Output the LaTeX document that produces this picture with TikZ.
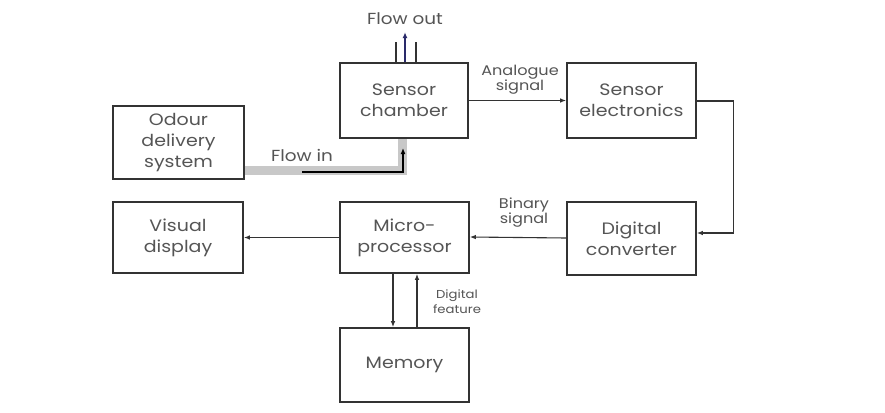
\documentclass[tikz,border=0pt]{standalone}
\usepackage{fontspec}
\setmainfont{Poppins}[FakeStretch=1.15]
\usetikzlibrary{arrows.meta}
\definecolor{boxc}{HTML}{333333}
\definecolor{txt}{HTML}{555555}
\definecolor{band}{HTML}{C8C8C8}
\definecolor{navy}{HTML}{2A2A6A}
\begin{document}
\begin{tikzpicture}[x=1pt,y=-1pt,
  box/.style={draw=boxc, line width=1.6pt, minimum width=129pt, minimum height=74pt,
    align=center, font=\fontsize{16.5}{21}\selectfont, text=txt, inner sep=0pt},
  lab/.style={align=center, font=\fontsize{14}{15}\selectfont, text=txt, inner sep=0pt},
  arr/.style={draw=boxc, line width=1.1pt, -{Latex[length=6pt,width=4.5pt]}},
  pipe/.style={draw=boxc, line width=1.1pt}
]
\useasboundingbox[fill=white] (0,0) rectangle (885,412);
% boxes
\node[box, minimum width=128pt, minimum height=75pt] (chamber) at (404,100.5) {Sensor\\chamber};
\node[box, minimum height=75pt] (elec) at (631.5,100.5) {Sensor\\electronics};
\node[box, minimum width=131pt, minimum height=73pt] (odour) at (178.5,142.5) {Odour\\delivery\\system};
\node[box, minimum width=130pt, minimum height=71pt] (visual) at (178,237.5) {Visual\\display};
\node[box, minimum height=71pt] (micro) at (404.5,237.5) {Micro-\\processor};
\node[box, minimum height=73pt] (dconv) at (631.5,238.5) {Digital\\converter};
\node[box] (memory) at (404.5,365) {Memory};
% flow in band
\draw[band, line width=9pt] ([yshift=-28pt]odour.east) -| ([xshift=-2pt]chamber.south);
\coordinate (fi) at (302,172);
\draw[draw=black, line width=1.8pt, -{Latex[length=6pt,width=5pt]}] (fi) -- (403,172) -- (403,148);
\node[lab, font=\fontsize{16}{18}\selectfont] (flowin) at (302,155) {Flow in};
% flow out
\draw[pipe] ([xshift=-8pt]chamber.north) -- ++(0,-20);
\draw[pipe] ([xshift=12pt]chamber.north) -- ++(0,-20);
\draw[draw=navy, line width=1.4pt, -{Latex[length=6pt,width=5pt]}] ([xshift=1pt]chamber.north) -- ++(0,-30) coordinate (fo);
\node[lab, font=\fontsize{16}{18}\selectfont] (flowout) at (405,19) {Flow out};
% connectors
\draw[arr] (chamber.east) -- (elec.west);
\node[lab] (ana) at (520,80) {Analogue\\signal};
\draw[arr] ([yshift=-0.5pt]elec.east) -- ++(37,0) |- ([yshift=5.5pt]dconv.east);
\draw[arr] ([yshift=0.5pt]dconv.west) -- ([yshift=0.5pt]micro.east);
\node[lab] (bin) at (524,213) {Binary\\signal};
\draw[arr] (micro.west) -- (visual.east);
\draw[arr] ([xshift=-11.5pt]micro.south) -- ([xshift=-11.5pt]memory.north);
\draw[arr] ([xshift=12.5pt]memory.north) -- ([xshift=12.5pt]micro.south);
\node[lab, font=\fontsize{11.5}{15}\selectfont] (df) at (457,302) {Digital\\feature};
\end{tikzpicture}
\end{document}
